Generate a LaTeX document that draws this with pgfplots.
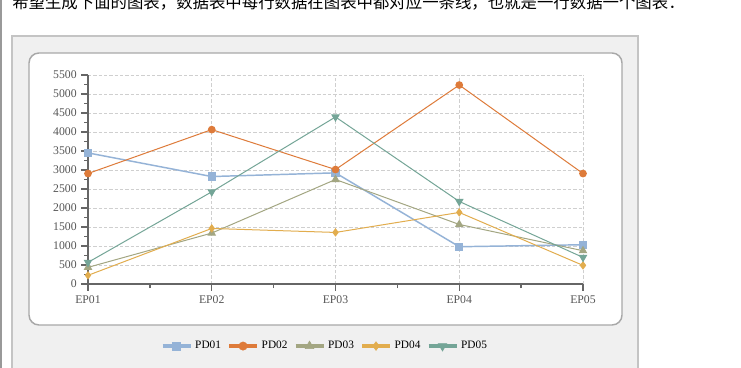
\documentclass[border=0pt]{standalone}
\usepackage{fontspec}
\setmainfont{Liberation Serif}
\newfontfamily\cjk{Noto Sans CJK SC}
\usepackage{pgfplots}
\pgfplotsset{compat=1.18}
\definecolor{cA}{HTML}{95B3D7}
\definecolor{cB}{HTML}{DE7B3A}
\definecolor{cC}{HTML}{A3A682}
\definecolor{cD}{HTML}{E2AD4E}
\definecolor{cE}{HTML}{74A597}
\definecolor{panel}{HTML}{F0F0F0}
\definecolor{panelborder}{HTML}{C4C4C4}
\definecolor{boxborder}{HTML}{A8A8A8}
\definecolor{axisgray}{HTML}{666666}
\definecolor{gridgray}{HTML}{CFCFCF}
\definecolor{labelgray}{HTML}{555555}
\begin{document}
\begin{tikzpicture}
\begin{scope}[x=0.75pt,y=0.75pt]
\useasboundingbox (-88,-83) rectangle (653,284);
\fill[white] (-88,-83) rectangle (653,284);
\draw[gray!80, line width=0.9pt] (-87,-90) -- (-87,290);
\node[anchor=base west, inner sep=0, font=\cjk\fontsize{12.3pt}{14pt}\selectfont] at (-76,275) {希望生成下面的图表，数据表中每行数据在图表中都对应一条线，也就是一行数据一个图表：};
\filldraw[fill=panel, draw=panelborder, line width=0.8pt] (-76,-95) rectangle (550,248);
\filldraw[fill=white, draw=boxborder, line width=1.1pt, rounded corners=7.5pt] (-59,-41) rectangle (534,231);
\end{scope}
\begin{axis}[
  at={(0,0)}, anchor=south west, scale only axis,
  width=371.25pt, height=156.75pt,
  xmin=0, xmax=4, ymin=0, ymax=5500,
  xtick={0,1,2,3,4}, xticklabels={EP01,EP02,EP03,EP04,EP05},
  minor x tick num=1,
  ytick={0,500,...,5500}, minor y tick num=1,
  axis lines=left, axis line style={-, draw=axisgray, line width=1.9pt},
  grid=major, major grid style={draw=gridgray, line width=0.6pt, dash pattern=on 2.5pt off 1.5pt},
  tick align=outside, major tick length=5pt, minor tick length=3pt,
  tick style={draw=axisgray, line width=1.1pt},
  tick label style={font=\fontsize{8.8pt}{10pt}\selectfont, text=labelgray},
  /pgf/number format/assume math mode=true, /pgf/number format/1000 sep={},
  clip=false,
  legend columns=5,
  legend style={at={(0.479,-0.297)}, anchor=center, draw=none, fill=none,
    font=\fontsize{8.5pt}{10pt}\selectfont,
    /tikz/every even column/.append style={column sep=2.5pt}},
  legend image code/.code={\draw[mark repeat=2,mark phase=2,#1, line width=3pt, every mark/.append style={line width=0.4pt, scale=1.25}] plot coordinates {(0pt,0pt)(10.5pt,0pt)(21pt,0pt)};},
]
\addplot[color=cA, line width=1.1pt, mark=square*, mark size=2.5pt] coordinates {(0,3450)(1,2828)(2,2925)(3,981)(4,1033)};
\addlegendentry{PD01}
\addplot[color=cB, line width=0.75pt, mark=*, mark size=2.5pt] coordinates {(0,2907)(1,4063)(2,3012)(3,5236)(4,2907)};
\addlegendentry{PD02}
\addplot[color=cC, line width=0.75pt, mark=triangle*, mark size=3pt] coordinates {(0,438)(1,1340)(2,2750)(3,1567)(4,876)};
\addlegendentry{PD03}
\addplot[color=cD, line width=0.75pt, mark=diamond*, mark size=2.6pt] coordinates {(0,228)(1,1462)(2,1357)(3,1883)(4,490)};
\addlegendentry{PD04}
\addplot[color=cE, line width=0.75pt, mark=triangle*, mark size=3pt, every mark/.append style={rotate=180}] coordinates {(0,569)(1,2426)(2,4396)(3,2172)(4,700)};
\addlegendentry{PD05}
\end{axis}
\end{tikzpicture}
\end{document}
